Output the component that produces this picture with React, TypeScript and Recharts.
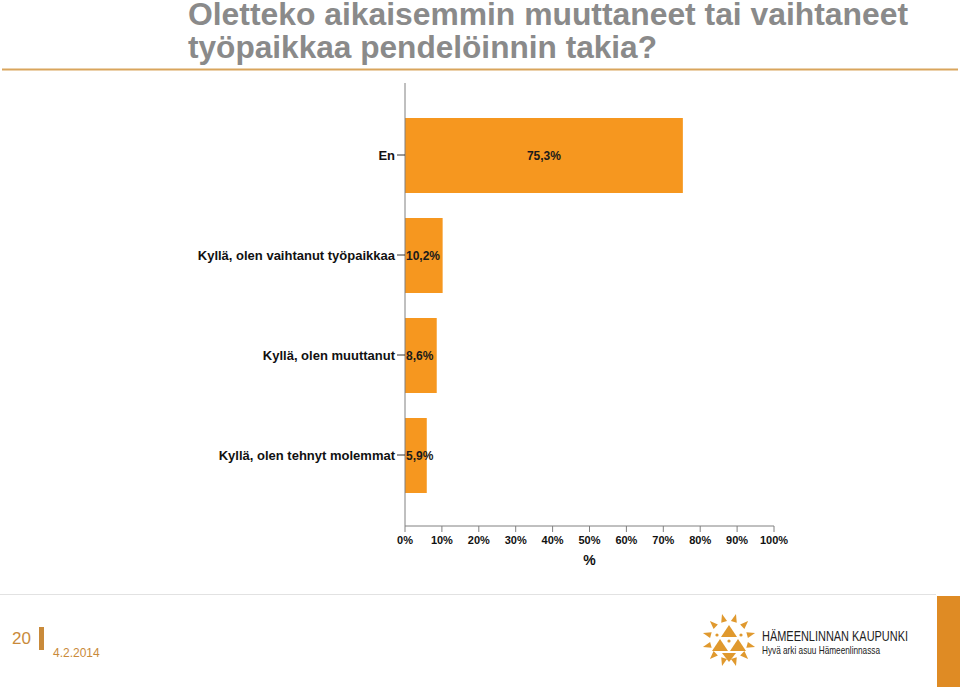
import { BarChart, Bar, XAxis, YAxis, LabelList } from 'recharts';

// answer categories and shares (%)
const categories = [
  'En',
  'Kyllä, olen vaihtanut työpaikkaa',
  'Kyllä, olen muuttanut',
  'Kyllä, olen tehnyt molemmat',
];
const shares = [75.3, 10.2, 8.6, 5.9];
const xTicks = [0, 10, 20, 30, 40, 50, 60, 70, 80, 90, 100];

const titleLines = ['Oletteko aikaisemmin muuttaneet tai vaihtaneet', 'työpaikkaa pendelöinnin takia?'];

const data = categories.map((name, i) => ({ name, value: shares[i] }));

const BAR_COLOR = '#f6971f';
const ACCENT = '#c98a3a';

const fmt = (v: number) => `${v.toFixed(1).replace('.', ',')}%`;

// centred inside the bar when it fits, otherwise starts at the bar's left edge
const renderValue = (props: any) => {
  const { x, y, width, height, value } = props;
  const cy = Number(y) + Number(height) / 2 + 4;
  const wide = Number(width) > 45;
  return (
    <text
      x={wide ? Number(x) + Number(width) / 2 : Number(x) + 1}
      y={cy}
      textAnchor={wide ? 'middle' : 'start'}
      fontSize={12}
      fontWeight="bold"
      fill="#1a1a1a"
    >
      {fmt(Number(value))}
    </text>
  );
};

const Logo = () => {
  const cx = 729;
  const cy = 640;
  const rays = Array.from({ length: 12 }, (_, i) => (i * 30 + 15) * (Math.PI / 180));
  return (
    <g fill="#e0992e">
      {rays.map((a, i) => {
        const r1 = 19;
        const r2 = 27;
        const w = 0.16;
        const p = [
          [cx + r2 * Math.sin(a), cy - r2 * Math.cos(a)],
          [cx + r1 * Math.sin(a - w), cy - r1 * Math.cos(a - w)],
          [cx + r1 * Math.sin(a + w), cy - r1 * Math.cos(a + w)],
        ];
        return <polygon key={i} points={p.map((q) => q.join(',')).join(' ')} />;
      })}
      <polygon points={`${cx},${cy - 15} ${cx - 8},${cy - 3} ${cx + 8},${cy - 3}`} />
      <polygon points={`${cx - 9},${cy - 1} ${cx - 17},${cy + 11} ${cx - 1},${cy + 11}`} />
      <polygon points={`${cx + 9},${cy - 1} ${cx + 1},${cy + 11} ${cx + 17},${cy + 11}`} />
      <polygon points={`${cx - 7},${cy + 13} ${cx + 7},${cy + 13} ${cx},${cy + 22}`} />
      <circle cx={cx - 12} cy={cy - 5} r={1.6} />
      <circle cx={cx + 12} cy={cy - 5} r={1.6} />
      <circle cx={cx} cy={cy + 1} r={1.6} />
    </g>
  );
};

export default function App() {
  return (
    <div
      style={{
        position: 'absolute',
        left: 0,
        top: 0,
        width: 960,
        height: 687,
        background: '#fff',
        fontFamily: '"Liberation Sans", Arial, sans-serif',
        overflow: 'hidden',
      }}
    >
      <svg width={960} height={687} style={{ position: 'absolute', left: 0, top: 0 }}>
        <g fill="#8a8a8a" fontWeight="bold" fontSize={32} fontFamily='"Liberation Sans Narrow", "Liberation Sans", Arial, sans-serif'>
          <text x={188} y={25} textLength={720} lengthAdjust="spacingAndGlyphs">{titleLines[0]}</text>
          <text x={188} y={58} textLength={469} lengthAdjust="spacingAndGlyphs">{titleLines[1]}</text>
        </g>
        <line x1={2} x2={958} y1={69.5} y2={69.5} stroke="#d9a55d" strokeWidth={2} />
        <line x1={0} x2={936} y1={594.5} y2={594.5} stroke="#e2e2e2" strokeWidth={1} />
        <text x={12} y={644} fontSize={17} fill={ACCENT}>20</text>
        <rect x={39} y={627} width={5} height={23} fill={ACCENT} />
        <text x={53} y={657} fontSize={12} fill={ACCENT}>4.2.2014</text>
        <Logo />
        <text x={762} y={641} fontSize={14} fill="#222" textLength={146} lengthAdjust="spacingAndGlyphs">HÄMEENLINNAN KAUPUNKI</text>
        <text x={762} y={654} fontSize={11} fill="#222" textLength={118} lengthAdjust="spacingAndGlyphs">Hyvä arki asuu Hämeenlinnassa</text>
        <rect x={937} y={596} width={23} height={91} fill="#df8b24" />
      </svg>
      <div style={{ position: 'absolute', left: 0, top: 0 }}>
        <BarChart
          width={960}
          height={687}
          data={data}
          layout="vertical"
          margin={{ top: 83, right: 186, bottom: 117, left: 0 }}
        >
          <XAxis
            type="number"
            domain={[0, 100]}
            ticks={xTicks}
            interval={0}
            tickFormatter={(v) => `${v}%`}
            height={44}
            tickSize={6}
            tickMargin={4}
            stroke="#808080"
            tick={{ fill: '#111', fontSize: 11, fontWeight: 'bold' }}
            label={{ value: '%', position: 'insideBottom', offset: 5, fill: '#111', fontSize: 14, fontWeight: 'bold' }}
          />
          <YAxis
            type="category"
            dataKey="name"
            width={405}
            padding={{ top: 22, bottom: 21 }}
            tickSize={8}
            tickMargin={2}
            stroke="#808080"
            tickLine={{ stroke: '#333' }}
            tick={{ fill: '#111', fontSize: 13, fontWeight: 'bold' }}
          />
          <Bar dataKey="value" fill={BAR_COLOR} barSize={75} isAnimationActive={false}>
            <LabelList dataKey="value" content={renderValue} />
          </Bar>
        </BarChart>
      </div>
    </div>
  );
}
